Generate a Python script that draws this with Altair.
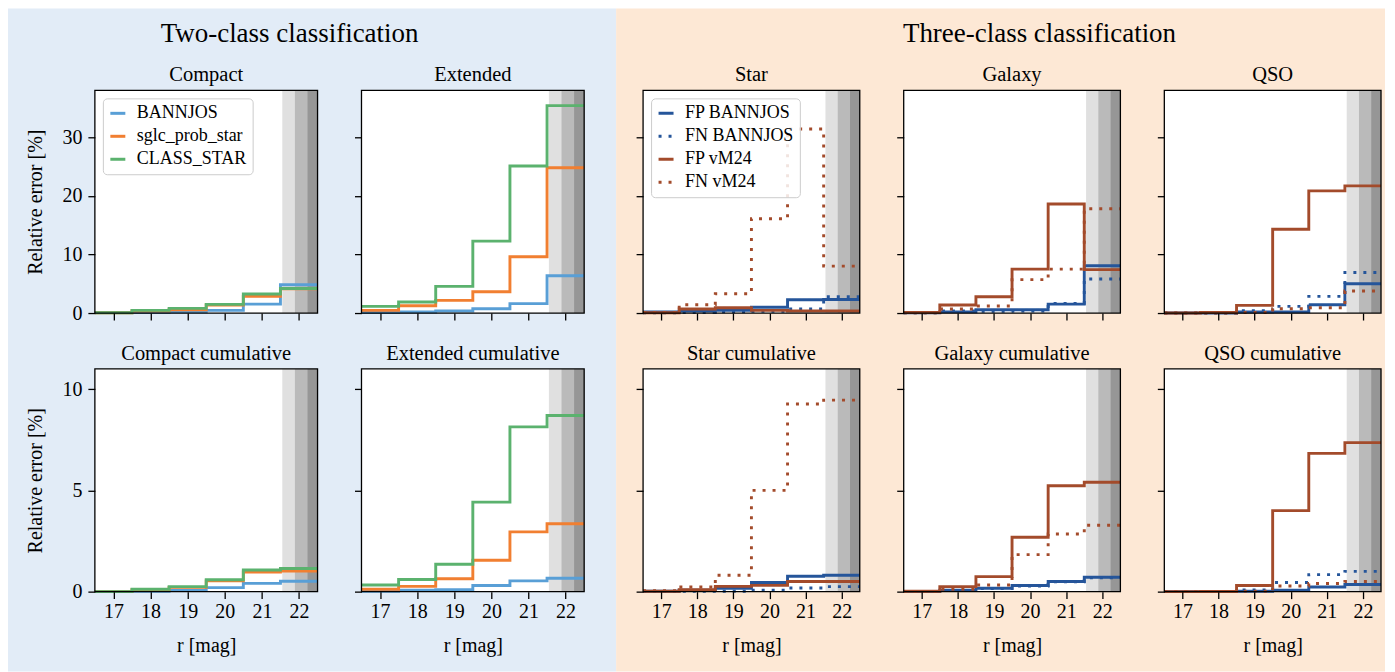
import altair as alt
import pandas as pd

FONT = "Liberation Serif"

# ---------------- data ----------------
MAG_EDGES = [16.5, 17.5, 18.5, 19.5, 20.5, 21.5, 22.5]
X_TICKS = [17, 18, 19, 20, 21, 22]

TWO_SERIES = ["BANNJOS", "sglc_prob_star", "CLASS_STAR"]
TWO_COLORS = ["#599fd6", "#f17f31", "#5bb26e"]

THREE_SERIES = ["FP BANNJOS", "FN BANNJOS", "FP vM24", "FN vM24"]
THREE_COLORS = ["#25559a", "#25559a", "#a34b2b", "#a34b2b"]
THREE_DASHES = [[1, 0], [3, 7], [1, 0], [3, 7]]

# depth limits (shaded bands)
BAND_START = [21.55, 21.89, 22.23]
BAND_END = [22.5, 22.5, 22.5]
BAND_FILL = ["#e0e0e0", "#bababa", "#969696"]

compact = {
    "BANNJOS": [0.1, 0.1, 0.2, 0.45, 1.53, 4.83],
    "sglc_prob_star": [0.05, 0.34, 0.57, 1.36, 2.84, 4.15],
    "CLASS_STAR": [0.05, 0.45, 0.8, 1.48, 3.24, 4.2],
}
extended = {
    "BANNJOS": [0.1, 0.17, 0.34, 0.74, 1.6, 6.36],
    "sglc_prob_star": [0.45, 1.25, 2.16, 3.64, 9.6, 24.8],
    "CLASS_STAR": [1.14, 1.88, 4.55, 12.27, 25.1, 35.4],
}
compact_cum = {
    "BANNJOS": [0.0, 0.02, 0.07, 0.2, 0.41, 0.51],
    "sglc_prob_star": [0.0, 0.1, 0.21, 0.53, 0.97, 1.02],
    "CLASS_STAR": [0.0, 0.12, 0.25, 0.59, 1.07, 1.14],
}
extended_cum = {
    "BANNJOS": [0.02, 0.07, 0.1, 0.3, 0.53, 0.66],
    "sglc_prob_star": [0.12, 0.26, 0.64, 1.55, 2.95, 3.35],
    "CLASS_STAR": [0.33, 0.6, 1.35, 4.42, 8.14, 8.7],
}
star = {
    "FP BANNJOS": [0.2, 0.34, 0.45, 1.0, 2.27, 2.3],
    "FN BANNJOS": [0.05, 0.1, 0.2, 0.3, 0.68, 2.78],
    "FP vM24": [0.05, 0.68, 0.9, 0.45, 0.34, 0.34],
    "FN vM24": [0.1, 1.42, 3.3, 16.1, 31.4, 8.0],
}
galaxy = {
    "FP BANNJOS": [0.05, 0.2, 0.57, 0.57, 1.53, 8.07],
    "FN BANNJOS": [0.05, 0.34, 0.3, 0.34, 1.65, 5.8],
    "FP vM24": [0.1, 1.36, 2.78, 7.5, 18.6, 7.4],
    "FN vM24": [0.05, 0.68, 1.2, 5.7, 7.5, 17.8],
}
qso = {
    "FP BANNJOS": [0.0, 0.0, 0.17, 0.2, 1.42, 5.0],
    "FN BANNJOS": [0.0, 0.0, 0.4, 1.14, 2.84, 6.93],
    "FP vM24": [0.0, 0.1, 1.3, 14.3, 20.85, 21.7],
    "FN vM24": [0.0, 0.0, 0.1, 0.74, 0.9, 3.75],
}
star_cum = {
    "FP BANNJOS": [0.02, 0.07, 0.17, 0.45, 0.76, 0.81],
    "FN BANNJOS": [0.01, 0.02, 0.02, 0.07, 0.18, 0.25],
    "FP vM24": [0.02, 0.1, 0.26, 0.31, 0.5, 0.5],
    "FN vM24": [0.05, 0.23, 0.81, 5.0, 9.27, 9.46],
}
galaxy_cum = {
    "FP BANNJOS": [0.01, 0.07, 0.17, 0.3, 0.5, 0.71],
    "FN BANNJOS": [0.01, 0.06, 0.15, 0.28, 0.48, 0.68],
    "FP vM24": [0.02, 0.25, 0.74, 2.69, 5.23, 5.4],
    "FN vM24": [0.01, 0.12, 0.33, 1.83, 2.85, 3.28],
}
qso_cum = {
    "FP BANNJOS": [0.0, 0.0, 0.02, 0.07, 0.23, 0.35],
    "FN BANNJOS": [0.0, 0.0, 0.08, 0.45, 0.84, 1.0],
    "FP vM24": [0.0, 0.01, 0.3, 4.0, 6.83, 7.36],
    "FN vM24": [0.0, 0.0, 0.02, 0.28, 0.4, 0.5],
}

# ---------------- layout / style ----------------
BLUE_BG = "#e2ecf7"
ORANGE_BG = "#fde8d5"
H = 223
PLOT_W = [223, 223, 217, 217, 217]     # drawn plot widths
CELL_W = [223, 238, 217, 217, 217]     # Extended column carries the extra gap between groups
DUMMY = pd.DataFrame({"k": [0]})


def step_frame(d, order):
    rows = []
    for s in order:
        vals = d[s]
        for i, e in enumerate(MAG_EDGES):
            rows.append({"series": s, "mag": e, "err": vals[min(i, len(vals) - 1)]})
    return pd.DataFrame(rows)


def legend_def():
    return alt.Legend(
        title=None, orient="top-left", offset=8, padding=6,
        fillColor="rgba(255,255,255,0.85)", strokeColor="#cccccc", cornerRadius=4,
        labelFont=FONT, labelFontSize=18, labelColor="black",
        symbolType="stroke", symbolSize=225, symbolStrokeWidth=3,
        labelOffset=10, rowPadding=5, zindex=1,
    )


def text_layer(txt, x, y, size):
    return alt.Chart(DUMMY).mark_text(
        text=txt, font=FONT, fontSize=size, align="center", baseline="alphabetic",
        color="black").encode(x=alt.value(x), y=alt.value(y))


def x_axis(row, w):
    if row == 1:
        return alt.Axis(values=X_TICKS, tickSize=7, tickWidth=1.3, tickColor="black",
                        domain=False, grid=False, labelFont=FONT, labelFontSize=20,
                        labelColor="black", labelPadding=3, title="r [mag]",
                        titleFont=FONT, titleFontSize=20, titleFontWeight="normal",
                        titleColor="black", titlePadding=14, titleX=w / 2, zindex=1)
    return alt.Axis(values=X_TICKS, tickSize=7, tickWidth=1.3, tickColor="black",
                    domain=False, grid=False, labels=False, title="", zindex=1)


def panel(title, d, row, col, with_legend):
    w = PLOT_W[col]
    cw = CELL_W[col]
    two = col < 2
    order = TWO_SERIES if two else THREE_SERIES
    ymax = 38 if row == 0 else 11
    yticks = [0, 10, 20, 30] if row == 0 else [0, 5, 10]

    xscale = alt.Scale(domain=[16.5, 22.5], range=[0, w], nice=False, zero=False)
    yscale = alt.Scale(domain=[0, ymax], nice=False, zero=True)

    if col == 0:
        yaxis = alt.Axis(values=yticks, tickSize=7, tickWidth=1.3, tickColor="black",
                         domain=False, grid=False, labelFont=FONT, labelFontSize=20,
                         labelColor="black", labelPadding=6, title="Relative error [%]",
                         titleFont=FONT, titleFontSize=20, titleFontWeight="normal",
                         titleColor="black", titlePadding=16, zindex=1)
    else:
        yaxis = alt.Axis(values=yticks, tickSize=7, tickWidth=1.3, tickColor="black",
                         domain=False, grid=False, labels=False, title="", zindex=1)

    layers = []
    if row == 0 and col == 0:
        # figure backgrounds and group titles (drawn first, everything else on top)
        layers.append(alt.Chart(DUMMY).mark_rect(color=BLUE_BG, strokeWidth=0).encode(
            x=alt.value(-87), x2=alt.value(522), y=alt.value(-82), y2=alt.value(582)))
        layers.append(alt.Chart(DUMMY).mark_rect(color=ORANGE_BG, strokeWidth=0).encode(
            x=alt.value(522), x2=alt.value(1292), y=alt.value(-82), y2=alt.value(582)))
        layers.append(text_layer("Two-class classification", 195, -48, 27))
        layers.append(text_layer("Three-class classification", 946, -48, 27))

    layers.append(alt.Chart(DUMMY).mark_rect(color="white", strokeWidth=0).encode(
        x=alt.value(0), x2=alt.value(w), y=alt.value(0), y2=alt.value(H)))
    bands_df = pd.DataFrame({"start": BAND_START, "end": BAND_END, "fill": BAND_FILL})
    layers.append(alt.Chart(bands_df).mark_rect(strokeWidth=0).encode(
        x=alt.X("start:Q", scale=xscale, axis=x_axis(row, w)),
        x2="end:Q",
        y=alt.value(0), y2=alt.value(H),
        color=alt.Color("fill:N", scale=None)))

    df = step_frame(d, order)
    colors = TWO_COLORS if two else THREE_COLORS
    if with_legend:
        cenc = alt.Color("series:N", scale=alt.Scale(domain=order, range=colors),
                         legend=legend_def(), sort=order)
    else:
        cenc = alt.Color("series:N", scale=alt.Scale(domain=order, range=colors),
                         legend=None, sort=order)
    enc = dict(
        x=alt.X("mag:Q", scale=xscale, axis=x_axis(row, w)),
        y=alt.Y("err:Q", scale=yscale, axis=yaxis),
        color=cenc,
    )
    if not two:
        if with_legend:
            enc["strokeDash"] = alt.StrokeDash(
                "series:N", scale=alt.Scale(domain=order, range=THREE_DASHES),
                legend=legend_def(), sort=order)
        else:
            enc["strokeDash"] = alt.StrokeDash(
                "series:N", scale=alt.Scale(domain=order, range=THREE_DASHES),
                legend=None, sort=order)
    layers.append(alt.Chart(df).mark_line(interpolate="step-after", strokeWidth=2.9).encode(**enc))
    layers.append(alt.Chart(DUMMY).mark_rect(fillOpacity=0, stroke="black", strokeWidth=1.3).encode(
        x=alt.value(0), x2=alt.value(w), y=alt.value(0), y2=alt.value(H)))
    layers.append(text_layer(title, w / 2, -9, 20.5))

    return alt.layer(*layers).properties(width=cw, height=H)


cells = [
    panel("Compact", compact, 0, 0, True),
    panel("Extended", extended, 0, 1, False),
    panel("Star", star, 0, 2, True),
    panel("Galaxy", galaxy, 0, 3, False),
    panel("QSO", qso, 0, 4, False),
    panel("Compact cumulative", compact_cum, 1, 0, False),
    panel("Extended cumulative", extended_cum, 1, 1, False),
    panel("Star cumulative", star_cum, 1, 2, False),
    panel("Galaxy cumulative", galaxy_cum, 1, 3, False),
    panel("QSO cumulative", qso_cum, 1, 4, False),
]
chart = alt.concat(*cells, columns=5, spacing={"row": 56, "column": 44}, bounds="flush").resolve_scale(
    color="independent", strokeDash="independent", x="independent", y="independent"
).resolve_legend(color="independent", strokeDash="independent").properties(
    padding=0, background="white").configure_view(strokeWidth=0)

chart.save("out.html", embed_options={"renderer": "svg", "actions": False})
